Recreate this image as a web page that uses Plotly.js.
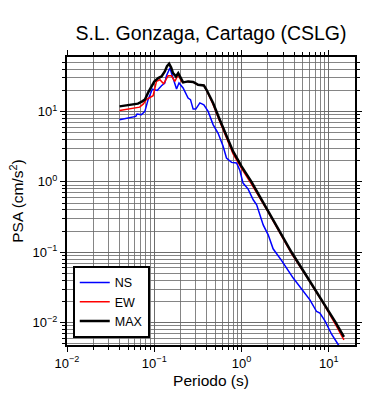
<!DOCTYPE html>
<html>
<head>
<meta charset="utf-8">
<script src="https://cdn.plot.ly/plotly-3.0.1.min.js"></script>
<style>html,body{margin:0;padding:0;background:#fff}#chart{width:390px;height:400px}</style>
</head>
<body>
<div id="chart"></div>
<script>
// Periods (s) and PSA (cm/s^2)
const nsPeriod = [0.04, 0.0548, 0.0614, 0.0635, 0.0713, 0.078, 0.085, 0.095, 0.108, 0.121, 0.132, 0.138, 0.151, 0.164, 0.180, 0.192, 0.214, 0.244, 0.26, 0.279, 0.299, 0.333, 0.37, 0.414, 0.472, 0.539, 0.615, 0.672, 0.768, 0.877, 0.957, 1.04, 1.19, 1.36, 1.49, 1.77, 2.02, 2.30, 2.88, 3.91, 5.56, 6.07, 7.24, 7.9, 9.0, 10.3, 10.8, 12.8, 14.9];
const nsPSA = [7.6, 8.2, 8.5, 9.2, 9.0, 10.0, 14.7, 20.8, 19.9, 23.2, 25.3, 32.1, 41.3, 29.8, 20.8, 25.3, 21.5, 15.5, 14.7, 10.8, 10.8, 13.2, 12.4, 10.0, 6.5, 4.9, 3.2, 2.18, 1.89, 1.85, 1.45, 0.96, 0.79, 0.557, 0.473, 0.245, 0.177, 0.112, 0.076, 0.043, 0.0249, 0.0211, 0.0144, 0.0137, 0.0107, 0.0079, 0.0068, 0.0049, 0.0038];

const ewPeriod = [0.04, 0.05, 0.06, 0.068, 0.075, 0.081, 0.097, 0.106, 0.116, 0.128, 0.144, 0.157, 0.172, 0.188, 0.205, 0.214, 0.244, 0.279, 0.318, 0.37, 0.397, 0.472, 0.563, 0.672, 0.8, 1.0, 1.3, 2.0, 2.75, 3.74, 5.56, 8.63, 12, 14.9];
const ewPSA = [10.3, 10.7, 11.1, 11.5, 12.8, 14.7, 16.7, 26.7, 28.2, 24.7, 32.1, 32.1, 26.7, 33.2, 26.7, 25.8, 26.7, 26.2, 23.9, 23.4, 20.0, 12.6, 7.2, 4.15, 2.5, 1.55, 0.93, 0.38, 0.19, 0.096, 0.045, 0.019, 0.0093, 0.0057];

const maxPeriod = [0.04, 0.05, 0.06, 0.065, 0.072, 0.078, 0.085, 0.093, 0.1, 0.111, 0.121, 0.132, 0.14, 0.148, 0.156, 0.164, 0.177, 0.188, 0.2, 0.214, 0.244, 0.279, 0.318, 0.37, 0.397, 0.472, 0.563, 0.672, 0.8, 1.0, 1.3, 2.0, 2.75, 3.74, 5.56, 8.63, 12, 14.9];
const maxPSA = [11.8, 12.2, 12.6, 12.9, 13.8, 14.7, 18.5, 23.2, 26.5, 29.8, 31.4, 37, 44, 47.6, 42, 35, 31.4, 35, 30, 25.8, 26.7, 26.2, 23.9, 23.4, 20.3, 13.2, 7.6, 4.4, 2.7, 1.66, 1.0, 0.39, 0.195, 0.1, 0.046, 0.0195, 0.01, 0.0063];

const seriesNames = ['NS', 'EW', 'MAX'];
const xTickVals = [0.01, 0.1, 1, 10];
const xTickText = ['10<sup>\u22122</sup>', '10<sup>\u22121</sup>', '10<sup>0</sup>', '10<sup>1</sup>'];
const yTickVals = [0.01, 0.1, 1, 10];
const yTickText = ['10<sup>\u22122</sup>', '10<sup>\u22121</sup>', '10<sup>0</sup>', '10<sup>1</sup>'];

const FONT = 'Liberation Sans, Arial, Helvetica, sans-serif';
const gridCol = '#666666';

const traces = [
  {x: nsPeriod, y: nsPSA, name: seriesNames[0], mode: 'lines', line: {color: '#0000ff', width: 1.5}},
  {x: ewPeriod, y: ewPSA, name: seriesNames[1], mode: 'lines', line: {color: '#ff0000', width: 1.5}},
  {x: maxPeriod, y: maxPSA, name: seriesNames[2], mode: 'lines', line: {color: '#000000', width: 2.5}}
];

function axis(vals, text, range, titleText, standoff) {
  return {
    type: 'log',
    range: range,
    tickvals: vals,
    ticktext: text,
    ticks: 'outside',
    ticklen: 5,
    tickwidth: 1,
    tickcolor: '#000',
    showline: true,
    linecolor: '#000',
    linewidth: 2,
    mirror: 'allticks',
    showgrid: true,
    gridcolor: gridCol,
    gridwidth: 0.8,
    zeroline: false,
    tickfont: {family: FONT, size: 13, color: '#000'},
    title: {text: titleText, font: {family: FONT, size: 15.5, color: '#000'}, standoff: standoff},
    minor: {dtick: 'D1', ticks: 'outside', ticklen: 3, tickcolor: '#000', showgrid: true, gridcolor: gridCol, gridwidth: 0.8}
  };
}

const layout = {
  width: 390,
  height: 400,
  margin: {l: 67, r: 35, t: 57, b: 55},
  paper_bgcolor: '#fff',
  plot_bgcolor: '#fff',
  font: {family: FONT, color: '#000'},
  title: {text: 'S.L. Gonzaga, Cartago (CSLG)', font: {family: FONT, size: 19.5, color: '#000'},
          x: 0.5, xref: 'paper', xanchor: 'center', y: 0.9175, yref: 'container', yanchor: 'middle'},
  xaxis: axis(xTickVals, xTickText, [-2, 1.3], 'Periodo (s)', 6),
  yaxis: axis(yTickVals, yTickText, [Math.log10(0.00482), Math.log10(59.3)], 'PSA (cm/s<sup>2</sup>)', 5),
  showlegend: true,
  legend: {
    x: 0.02, y: 0.275, xanchor: 'left', yanchor: 'top',
    bgcolor: '#fff', bordercolor: '#000', borderwidth: 2,
    font: {family: FONT, size: 12.5, color: '#000'}
  }
};

Plotly.newPlot('chart', traces, layout, {staticPlot: true, displayModeBar: false});
</script>
</body>
</html>
